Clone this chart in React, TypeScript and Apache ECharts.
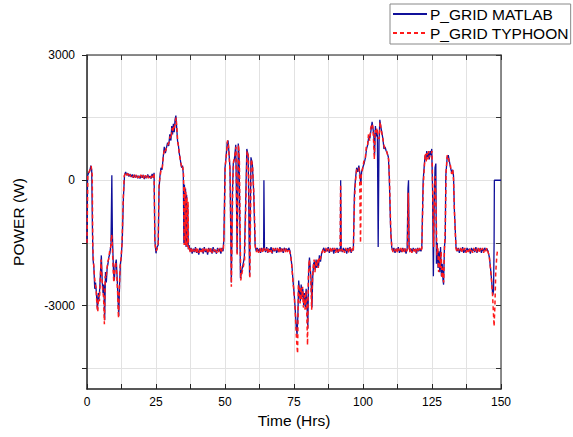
import React, { useEffect, useRef } from "react";
import * as echarts from "echarts";

const xTicks = [0, 25, 50, 75, 100, 125, 150];
const yLabelValues = [-3000, 0, 3000];
const yTickValues = [-4500, -3000, -1500, 0, 1500, 3000];
const seriesNames = ["P_GRID MATLAB", "P_GRID TYPHOON"];

const matlab: [number, number][] = [
[0,-1500],[0.2,100],[0.6,180],[1.0,220],[1.4,350],[1.7,250],[2.0,-1300],[2.2,-1900],[2.5,-2100],[2.8,-2600],[3.1,-2450],[3.4,-2700],[3.8,-3100],[4.1,-2700],[4.3,-2850],[4.6,-2600],[4.9,-2200],[5.2,-1800],[5.5,-2400],[5.8,-2700],[6.1,-2500],[6.4,-3350],[6.7,-2200],[7.0,-2450],[7.3,-2100],[7.6,-2000],[7.9,-1850],[8.3,-1750],[8.7,-1500],[9.0,120],[9.2,-1300],[9.6,-2200],[9.9,-2400],[10.2,-2050],[10.6,-1900],[10.9,-2300],[11.2,-2800],[11.5,-3250],[11.8,-2500],[12.1,-2000],[12.4,-1850],[12.8,-1400],[13.2,-400],[13.6,120],
[14.0,200],[14.4,120],[14.8,170],[15.2,90],[15.6,150],[16.0,80],[16.4,140],[16.8,60],[17.2,130],[17.6,70],[18.0,120],[18.4,50],[18.8,110],[19.2,40],[19.6,120],[20.0,60],[20.4,130],[20.8,30],[21.2,110],[21.6,50],[22.0,140],[22.4,60],[22.8,100],[23.2,40],[23.6,150],[24.0,60],[24.3,180],
[24.6,-1450],[25.0,-1750],[25.4,-1600],[25.8,-1550],[26.1,-200],[26.4,80],[26.8,300],[27.2,250],[27.6,550],[28.0,800],[28.4,650],[28.8,780],[29.2,900],[29.6,820],[30.0,1100],[30.4,950],[30.7,1300],[31.0,1100],[31.3,1350],[31.6,1150],[31.9,1450],[32.2,1550],[32.5,1250],[32.8,950],[33.1,850],[33.4,650],[33.7,550],[34.0,400],[34.3,300],[34.6,350],[34.9,150],[35.1,-1500],[35.3,-100],[35.5,-1550],[35.7,-200],[35.9,-1600],[36.1,-350],[36.3,-1550],[36.5,-600],[36.7,-1650],[37.0,-1550],[37.3,-1700],
[37.7,-1620],[38.1,-1760],[38.5,-1640],[38.9,-1720],[39.3,-1600],[39.7,-1740],[40.1,-1660],[40.5,-1780],[40.9,-1620],[41.3,-1700],[41.7,-1640],[42.1,-1760],[42.5,-1600],[42.9,-1720],[43.3,-1660],[43.7,-1780],[44.1,-1620],[44.5,-1700],[44.9,-1640],[45.3,-1760],[45.7,-1600],[46.1,-1720],[46.5,-1660],[46.9,-1760],[47.3,-1620],[47.7,-1700],[48.1,-1640],[48.5,-1760],[48.9,-1620],[49.3,-1700],
[49.6,-1400],[50.0,300],[50.4,550],[50.8,900],[51.1,950],[51.4,700],[51.8,300],[52.3,-2450],[52.7,-300],[53.0,400],[53.4,500],[53.9,850],[54.4,-1750],[54.8,880],[55.1,600],[55.6,-2350],[56.1,-2150],[56.6,-2000],[57.0,-1850],[57.5,-500],[57.9,750],[58.4,600],[58.9,-2300],[59.4,550],[59.9,400],[60.4,-300],[60.9,-1550],[61.3,-1700],[61.7,-1620],[62.1,-1720],[62.5,-1640],[62.9,-1740],[63.3,-1620],[63.7,-1700],[64.0,-1660],[64.1,0],[64.3,-1640],[64.7,-1720],[65.1,-1600],[65.5,-1740],[65.9,-1640],[66.3,-1700],[66.7,-1600],[67.1,-1760],[67.5,-1640],[67.9,-1700],[68.3,-1620],[68.7,-1740],[69.1,-1660],[69.5,-1720],[69.9,-1600],[70.3,-1700],[70.7,-1640],[71.1,-1740],[71.5,-1620],[71.9,-1680],[72.3,-1640],[72.7,-1700],[73.1,-1620],[73.5,-1680],
[73.9,-1850],[74.3,-2100],[74.7,-2450],[75.1,-2750],[75.5,-3150],[75.8,-3500],[76.1,-3700],[76.4,-3250],[76.7,-2400],[77.0,-2650],[77.3,-2900],[77.6,-2500],[77.9,-2800],[78.2,-2600],[78.5,-3000],[78.8,-2700],[79.1,-3050],[79.4,-2600],[79.7,-2950],[80.0,-3550],[80.3,-2200],[80.6,-1850],[80.9,-2100],[81.2,-2400],[81.5,-3050],[81.8,-2300],[82.1,-2000],[82.4,-1950],[82.7,-2150],[83.0,-1900],[83.3,-2100],[83.6,-1950],[83.9,-2050],[84.2,-1800],[84.6,-1950],[85.0,-1750],[85.4,-1680],
[85.8,-1620],[86.2,-1720],[86.6,-1640],[87.0,-1700],[87.4,-1600],[87.8,-1740],[88.2,-1640],[88.6,-1700],[89.0,-1620],[89.4,-1760],[89.8,-1640],[90.2,-1700],[90.6,-1620],[91.0,-1740],[91.4,-1640],[91.8,-1700],[91.9,0],[92.1,-1650],[92.5,-1720],[92.9,-1620],[93.3,-1700],[93.7,-1640],[94.1,-1760],[94.5,-1620],[94.9,-1700],[95.3,-1600],[95.7,-1740],[96.1,-1640],[96.5,-1680],
[96.9,-300],[97.3,50],[97.7,300],[98.1,200],[98.5,350],[98.9,150],[99.2,-100],[99.5,200],[99.9,300],[100.4,400],[100.9,550],[101.3,750],[101.7,850],[102.1,1050],[102.5,1000],[102.9,1200],[103.3,1400],[103.6,1250],[103.9,1100],[104.2,600],[104.5,1300],[104.8,1050],[105.2,1200],[105.5,-1600],[105.8,900],[106.1,1450],[106.4,1300],[106.8,1150],[107.2,1000],[107.6,750],[108.0,800],[108.4,700],[108.8,650],[109.2,550],[109.5,120],[110.0,-1150],[110.4,-1600],
[110.8,-1700],[111.2,-1620],[111.6,-1740],[112.0,-1640],[112.4,-1700],[112.8,-1600],[113.2,-1740],[113.6,-1660],[114.0,-1720],[114.4,-1620],[114.8,-1700],[115.2,-1640],[115.6,-1760],[116.0,-1640],[116.3,-200],[116.5,0],[116.7,-1600],[117.0,-1700],[117.4,-1640],[117.8,-1720],[118.2,-1620],[118.6,-1700],[119.0,-1640],[119.4,-1760],[119.8,-1620],[120.2,-1700],[120.6,-1640],[121.0,-1700],[121.3,-1620],
[121.8,0],[122.2,350],[122.5,600],[122.8,500],[123.1,700],[123.4,550],[123.7,650],[124.0,500],[124.3,700],[124.6,600],[124.9,750],[125.2,-200],[125.5,-2300],[125.8,-600],[126.1,300],[126.4,400],[126.6,-2000],[126.9,-1500],[127.2,-2100],[127.5,-1700],[127.8,-2200],[128.1,-1600],[128.4,-2300],[128.7,-2000],[129.0,-2400],[129.2,-2500],[129.5,-1600],[129.8,-1400],[130.0,100],[130.5,550],[130.9,600],[131.3,450],[131.7,300],[132.1,200],[132.5,250],[132.8,100],[133.1,-700],[133.7,-1600],
[134.1,-1700],[134.5,-1620],[134.9,-1740],[135.3,-1640],[135.7,-1700],[136.1,-1600],[136.5,-1740],[136.9,-1660],[137.3,-1720],[137.7,-1620],[138.1,-1700],[138.5,-1640],[138.9,-1760],[139.3,-1620],[139.7,-1700],[140.1,-1640],[140.5,-1720],[140.9,-1600],[141.3,-1740],[141.7,-1640],[142.1,-1700],[142.5,-1620],[142.9,-1740],[143.3,-1640],[143.7,-1700],[144.1,-1620],[144.5,-1680],[144.9,-1640],[145.3,-1700],
[145.8,-1850],[146.2,-2100],[146.6,-2400],[147.0,-2750],[147.3,-2650],[147.5,-1500],[147.6,0],[150,0]
];

const typhoon: [number, number][] = [
[0,-1500],[0.3,120],[0.8,210],[1.2,270],[1.5,340],[1.9,120],[2.1,-1600],[2.4,-2000],[2.7,-2300],[3.0,-2500],[3.3,-2600],[3.6,-3000],[3.9,-3150],[4.2,-2750],[4.5,-2900],[4.8,-2400],[5.1,-1900],[5.4,-2300],[5.7,-2650],[6.0,-2800],[6.3,-3450],[6.6,-2300],[6.9,-2350],[7.2,-2150],[7.5,-1950],[7.8,-1900],[8.2,-1700],[8.6,-1600],[8.9,-1300],[9.1,-1400],[9.4,-2000],[9.7,-2450],[10.0,-2200],[10.4,-1950],[10.8,-2250],[11.1,-2700],[11.4,-3300],[11.7,-2650],[12.0,-2050],[12.3,-1900],[12.7,-1500],[13.1,-500],[13.5,100],
[13.9,180],[14.3,130],[14.7,160],[15.1,80],[15.5,140],[15.9,90],[16.3,130],[16.7,70],[17.1,140],[17.5,60],[17.9,130],[18.3,60],[18.7,100],[19.1,50],[19.5,130],[19.9,50],[20.3,120],[20.7,40],[21.1,120],[21.5,60],[21.9,130],[22.3,50],[22.7,110],[23.1,50],[23.5,140],[23.9,70],[24.3,170],
[24.6,-1500],[25.0,-1700],[25.4,-1650],[25.8,-1500],[26.1,-100],[26.5,100],[26.9,280],[27.3,300],[27.7,600],[28.1,750],[28.5,700],[28.9,820],[29.3,850],[29.7,900],[30.1,1050],[30.5,1000],[30.8,1250],[31.1,1150],[31.4,1300],[31.7,1250],[32.0,1400],[32.3,1500],[32.6,1200],[32.9,900],[33.2,800],[33.5,600],[33.8,500],[34.1,380],[34.4,280],[34.7,320],[35.0,100],[35.2,-1550],[35.4,-150],[35.6,-1550],[35.8,-250],[36.0,-1600],[36.2,-400],[36.4,-1600],[36.6,-500],[36.8,-1650],[37.1,-1600],[37.4,-1720],
[37.8,-1640],[38.2,-1740],[38.6,-1660],[39.0,-1700],[39.4,-1620],[39.8,-1760],[40.2,-1640],[40.6,-1740],[41.0,-1640],[41.4,-1720],[41.8,-1620],[42.2,-1740],[42.6,-1640],[43.0,-1700],[43.4,-1640],[43.8,-1760],[44.2,-1640],[44.6,-1720],[45.0,-1620],[45.4,-1740],[45.8,-1640],[46.2,-1700],[46.6,-1640],[47.0,-1740],[47.4,-1640],[47.8,-1720],[48.2,-1620],[48.6,-1740],[49.0,-1640],[49.4,-1680],
[49.7,-1200],[50.1,350],[50.5,600],[50.9,950],[51.2,900],[51.5,600],[51.9,100],[52.3,-2550],[52.8,-200],[53.1,450],[53.5,550],[54.0,800],[54.4,-1800],[54.9,850],[55.2,500],[55.7,-2400],[56.2,-2200],[56.7,-2050],[57.1,-1900],[57.6,-400],[58.0,700],[58.5,550],[59.0,-2350],[59.5,500],[60.0,350],[60.5,-400],[61.0,-1600],[61.4,-1720],[61.8,-1640],[62.2,-1740],[62.6,-1620],[63.0,-1720],[63.4,-1640],[63.8,-1740],[64.2,-1620],[64.6,-1700],[65.0,-1640],[65.4,-1740],[65.8,-1620],[66.2,-1720],[66.6,-1640],[67.0,-1740],[67.4,-1620],[67.8,-1720],[68.2,-1640],[68.6,-1700],[69.0,-1620],[69.4,-1740],[69.8,-1640],[70.2,-1720],[70.6,-1620],[71.0,-1700],[71.4,-1640],[71.8,-1720],[72.2,-1620],[72.6,-1720],[73.0,-1640],[73.4,-1700],
[73.8,-1800],[74.2,-2050],[74.6,-2400],[75.0,-2700],[75.4,-3100],[75.7,-3550],[76.0,-3900],[76.3,-4150],[76.6,-2500],[76.9,-2600],[77.2,-2950],[77.5,-2550],[77.8,-2850],[78.1,-2550],[78.4,-3050],[78.7,-2750],[79.0,-3100],[79.3,-2650],[79.6,-3100],[79.9,-3950],[80.2,-2300],[80.5,-1900],[80.8,-2050],[81.1,-2450],[81.4,-3100],[81.7,-2350],[82.0,-2050],[82.3,-1900],[82.6,-2200],[82.9,-1950],[83.2,-2050],[83.5,-1900],[83.8,-2100],[84.1,-1850],[84.5,-1900],[84.9,-1780],[85.3,-1700],
[85.7,-1640],[86.1,-1740],[86.5,-1620],[86.9,-1720],[87.3,-1640],[87.7,-1700],[88.1,-1620],[88.5,-1740],[88.9,-1640],[89.3,-1700],[89.7,-1620],[90.1,-1740],[90.5,-1640],[90.9,-1720],[91.3,-1620],[91.7,-1700],[91.9,-100],[92.1,-1600],[92.5,-1700],[92.9,-1640],[93.3,-1740],[93.7,-1620],[94.1,-1700],[94.5,-1640],[94.9,-1740],[95.3,-1620],[95.7,-1720],[96.1,-1640],[96.5,-1700],
[96.9,-500],[97.3,0],[97.7,250],[98.1,250],[98.5,300],[98.8,100],[99.1,-1500],[99.4,150],[99.8,250],[100.3,450],[100.8,500],[101.2,800],[101.6,800],[102.0,1100],[102.4,950],[102.8,1250],[103.2,1350],[103.5,1300],[103.8,1000],[104.1,500],[104.4,1200],[104.7,1100],[105.1,1250],[105.5,1000],[105.9,1000],[106.2,1400],[106.5,1250],[106.9,1100],[107.3,950],[107.7,800],[108.1,750],[108.5,720],[108.9,600],[109.3,500],[109.6,0],[110.1,-1300],[110.5,-1640],
[110.9,-1720],[111.3,-1640],[111.7,-1700],[112.1,-1620],[112.5,-1740],[112.9,-1640],[113.3,-1700],[113.7,-1620],[114.1,-1740],[114.5,-1640],[114.9,-1720],[115.3,-1620],[115.7,-1700],[116.1,-1660],[116.4,-300],[116.6,-1500],[116.9,-1720],[117.3,-1620],[117.7,-1740],[118.1,-1640],[118.5,-1700],[118.9,-1620],[119.3,-1740],[119.7,-1640],[120.1,-1720],[120.5,-1620],[120.9,-1700],[121.3,-1640],
[121.8,-200],[122.2,300],[122.6,650],[122.9,450],[123.2,650],[123.5,500],[123.8,700],[124.1,550],[124.4,650],[124.7,650],[125.0,700],[125.3,-400],[125.6,-1600],[125.9,-400],[126.2,100],[126.5,-800],[126.8,-1800],[127.1,-1600],[127.4,-2200],[127.7,-1800],[128.0,-2100],[128.3,-1700],[128.6,-2350],[128.9,-2100],[129.2,-2450],[129.5,-1700],[129.8,-1200],[130.1,200],[130.5,600],[130.9,550],[131.3,400],[131.7,350],[132.1,150],[132.5,250],[132.8,0],[133.2,-900],[133.7,-1640],
[134.1,-1720],[134.5,-1640],[134.9,-1700],[135.3,-1620],[135.7,-1740],[136.1,-1640],[136.5,-1700],[136.9,-1620],[137.3,-1740],[137.7,-1640],[138.1,-1720],[138.5,-1620],[138.9,-1700],[139.3,-1640],[139.7,-1740],[140.1,-1620],[140.5,-1700],[140.9,-1640],[141.3,-1720],[141.7,-1620],[142.1,-1740],[142.5,-1640],[142.9,-1700],[143.3,-1620],[143.7,-1740],[144.1,-1640],[144.5,-1700],[144.9,-1620],[145.3,-1720],
[145.7,-1800],[146.1,-2050],[146.5,-2350],[146.9,-2700],[147.2,-3100],[147.5,-3500],[147.8,-3000],[148.1,-2200],[148.5,-1800],[148.8,-1650]
];

const FONT = "'Liberation Sans', Arial, sans-serif";

export default function App() {
  const ref = useRef<HTMLDivElement>(null);
  useEffect(() => {
    if (!ref.current) return;
    const chart = echarts.init(ref.current, null, { renderer: "svg" });
    const baseX = {
      type: "value" as const,
      min: 0,
      max: 150,
      interval: 12.5,
    };
    chart.setOption({
      animation: false,
      backgroundColor: "#ffffff",
      textStyle: { fontFamily: FONT },
      grid: { left: 87, right: 72, top: 55, bottom: 48, containLabel: false },
      legend: {
        orient: "vertical",
        left: 390,
        top: 4,
        itemWidth: 34,
        itemHeight: 12,
        itemGap: 3,
        padding: [2, 2, 3, 2],
        borderColor: "#888",
        borderWidth: 1,
        borderRadius: 0,
        itemStyle: { opacity: 0 },
        textStyle: { fontSize: 15.5, color: "#000", fontFamily: FONT, padding: [0, 0, 0, -2] },
        data: seriesNames,
      },
      xAxis: [
        {
          ...baseX,
          position: "bottom",
          name: "Time (Hrs)",
          nameLocation: "middle",
          nameGap: 19,
          nameTextStyle: { fontSize: 15.5, color: "#000", fontFamily: FONT },
          axisLine: { show: true, onZero: false, lineStyle: { color: "#222", width: 1.5 } },
          axisTick: { show: true, inside: true, length: 5, lineStyle: { color: "#222" } },
          axisLabel: {
            fontSize: 12,
            color: "#000",
            margin: 7,
            fontFamily: FONT,
            formatter: (v: number) => (xTicks.includes(v) ? String(v) : ""),
          },
          splitLine: { show: true, lineStyle: { color: "#e2e2e2", width: 1 } },
        },
        {
          ...baseX,
          position: "top",
          axisLine: { show: true, onZero: false, lineStyle: { color: "#666", width: 1.5 } },
          axisTick: { show: true, inside: true, length: 5, lineStyle: { color: "#333" } },
          axisLabel: { show: false },
          splitLine: { show: false },
        },
      ],
      yAxis: [
        {
          type: "value",
          min: -5000,
          max: 3000,
          position: "left",
          name: "POWER (W)",
          nameLocation: "middle",
          nameGap: 61,
          nameTextStyle: { fontSize: 15.5, color: "#000", fontFamily: FONT },
          axisLine: { show: true, onZero: false, lineStyle: { color: "#222", width: 1.5 } },
          axisTick: { show: true, inside: false, length: 5, customValues: yTickValues, lineStyle: { color: "#222" } },
          axisLabel: {
            fontSize: 12,
            color: "#000",
            margin: 12,
            fontFamily: FONT,
            customValues: yLabelValues,
            formatter: (v: number) => String(v),
          },
          splitLine: { show: true, lineStyle: { color: "#e2e2e2", width: 1 } },
        },
        {
          type: "value",
          min: -5000,
          max: 3000,
          position: "right",
          axisLine: { show: true, onZero: false, lineStyle: { color: "#666", width: 1.5 } },
          axisTick: { show: true, inside: true, length: 5, customValues: yTickValues, lineStyle: { color: "#333" } },
          axisLabel: { show: false },
          splitLine: { show: false },
        },
      ],
      series: [
        {
          name: seriesNames[0],
          type: "line",
          data: matlab,
          symbol: "none",
          lineStyle: { color: "#10109a", width: 1.3 },
          itemStyle: { color: "#10109a" },
        },
        {
          name: seriesNames[1],
          type: "line",
          data: typhoon,
          symbol: "none",
          lineStyle: { color: "#ff1a1a", width: 1.5, type: [4, 3] },
          itemStyle: { color: "#ff1a1a" },
        },
      ],
    });
    return () => chart.dispose();
  }, []);
  return (
    <div
      ref={ref}
      style={{ position: "fixed", left: 0, top: 0, width: 573, height: 437 }}
    />
  );
}
